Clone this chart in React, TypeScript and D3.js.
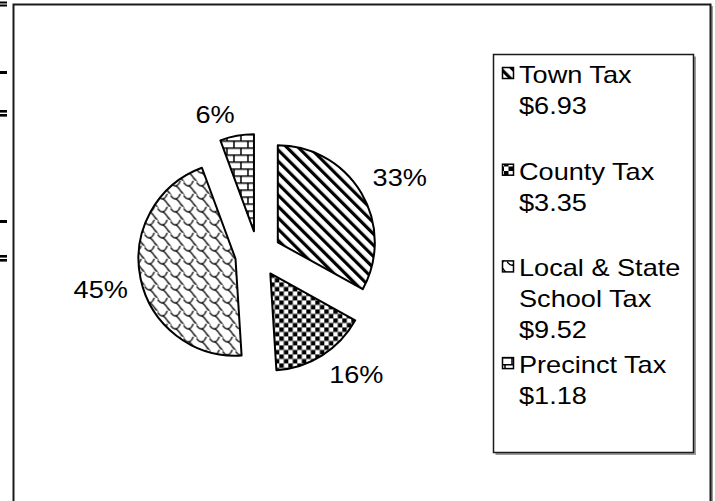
import * as d3 from 'd3';

// Tax bill breakdown
const categories = ['Town Tax', 'County Tax', 'Local & State School Tax', 'Precinct Tax'];
const legendLines = [['Town Tax'], ['County Tax'], ['Local & State', 'School Tax'], ['Precinct Tax']];
const amounts = [6.93, 3.35, 9.52, 1.18];
const patternIds = ['town', 'county', 'school', 'precinct'];

const W = 715;
const H = 501;
const CX = 258;
const CY = 254;
const R = 97;
const EXPLODE = 23;
const LABEL_GAP = 110;
const FONT = '"Liberation Sans", Arial, sans-serif';
const FS = 23;
const SX = 1.18;
const CAP = 16.5;

// stray rule marks at the left edge of the page
const edgeMarks = [
  [1.5, 2], [4.5, 2], [71, 3], [110, 2.6], [114, 2.6], [220, 3], [255, 2.6], [259, 2.6],
];

function Patterns() {
  return (
    <defs>
      <pattern id="town" width={8} height={8} patternUnits="userSpaceOnUse" patternTransform="rotate(-45)">
        <rect width={8} height={8} fill="#fff" />
        <rect x={0} width={3.2} height={8} fill="#000" />
      </pattern>
      <pattern id="county" width={9} height={9} patternUnits="userSpaceOnUse">
        <rect width={9} height={9} fill="#fff" />
        <rect x={0} y={0} width={4.5} height={4.5} fill="#000" />
        <rect x={4.5} y={4.5} width={4.5} height={4.5} fill="#000" />
      </pattern>
      <pattern id="school" width={13} height={13} patternUnits="userSpaceOnUse">
        <rect width={13} height={13} fill="#fff" />
        <path
          d="M0,1.6 Q3.5,6.5 6.5,4.8 Q8.5,3.5 9.8,0 M13,1.6 L13,1.6 M5.2,4.5 Q8,7 10,10 Q11.5,12 13,13 M0,0 L0.5,0.8"
          fill="none" stroke="#000" strokeWidth={1.3}
        />
        <path d="M-3.2,10.5 Q-1.5,13.5 0,14.6" fill="none" stroke="#000" strokeWidth={1.3} />
      </pattern>
      <pattern id="precinct" width={14} height={14} patternUnits="userSpaceOnUse">
        <rect width={14} height={14} fill="#fff" />
        <path d="M0,0.75 H14 M0,7.75 H14 M1,0 V7 M8,7 V14" stroke="#000" strokeWidth={1.5} fill="none" />
      </pattern>
    </defs>
  );
}

export default function App() {
  const total = d3.sum(amounts);
  const pct = d3.format('.0%');
  const pie = d3.pie<number>().sort(null).value(d => d)(amounts);
  const arc = d3.arc<d3.PieArcDatum<number>>().innerRadius(0).outerRadius(R);

  const slices = pie.map((p, i) => {
    const mid = (p.startAngle + p.endAngle) / 2;
    const dx = Math.sin(mid);
    const dy = -Math.cos(mid);
    const ax = CX + EXPLODE * dx;
    const ay = CY + EXPLODE * dy;
    const lx = ax + LABEL_GAP * dx;
    const ly = ay + LABEL_GAP * dy;
    return {
      p, i, ax, ay, lx,
      ly: dy >= 0 ? ly + CAP : ly,
      anchor: dx >= 0 ? 'start' : 'end',
      label: pct(amounts[i] / total),
    };
  });

  const legendX = 493.5;
  const legendY = 54.5;
  const legendW = 200;
  const legendH = 398;
  const firstBase = 83;
  const slot = 96.7;
  const lineH = 31;

  return (
    <svg width={W} height={H} style={{ position: 'absolute', left: 0, top: 0, background: '#fff' }}
      fontFamily={FONT}>
      <Patterns />
      <rect width={W} height={H} fill="#fff" />

      {edgeMarks.map(([y, h], i) => (
        <rect key={i} x={0} y={y} width={7} height={h} fill="#000" />
      ))}

      {/* chart area frame */}
      <line x1={712} y1={6} x2={712} y2={H} stroke="#9a9a9a" strokeWidth={2} />
      <rect x={13.5} y={4.5} width={697} height={520} fill="none" stroke="#1a1a1a" strokeWidth={2} />

      {slices.map(s => (
        <path key={categories[s.i]} d={arc(s.p) || ''} transform={`translate(${s.ax},${s.ay})`}
          fill={`url(#${patternIds[s.i]})`} stroke="#000" strokeWidth={2} strokeLinejoin="round" />
      ))}

      {slices.map(s => (
        <text key={'l' + s.i} transform={`translate(${s.lx},${s.ly}) scale(${SX},1)`}
          textAnchor={s.anchor} fontSize={FS} fill="#000">{s.label}</text>
      ))}

      {/* legend */}
      <path d={`M${legendX + legendW + 1.5},${legendY + 2} V${legendY + legendH + 1.5} H${legendX + 2}`}
        fill="none" stroke="#9a9a9a" strokeWidth={2} />
      <rect x={legendX} y={legendY} width={legendW} height={legendH} fill="#fff" stroke="#1a1a1a" strokeWidth={1.5} />
      {legendLines.map((lines, i) => {
        const base = firstBase + i * slot;
        return (
          <g key={'lg' + i}>
            <rect x={502.5} y={base - 15.5} width={11} height={11} fill={`url(#${patternIds[i]})`}
              stroke="#000" strokeWidth={1.5} />
            {[...lines, `$${amounts[i].toFixed(2)}`].map((t, j) => (
              <text key={j} transform={`translate(519,${base + j * lineH}) scale(${SX},1)`}
                fontSize={FS} fill="#000">{t}</text>
            ))}
          </g>
        );
      })}
    </svg>
  );
}
